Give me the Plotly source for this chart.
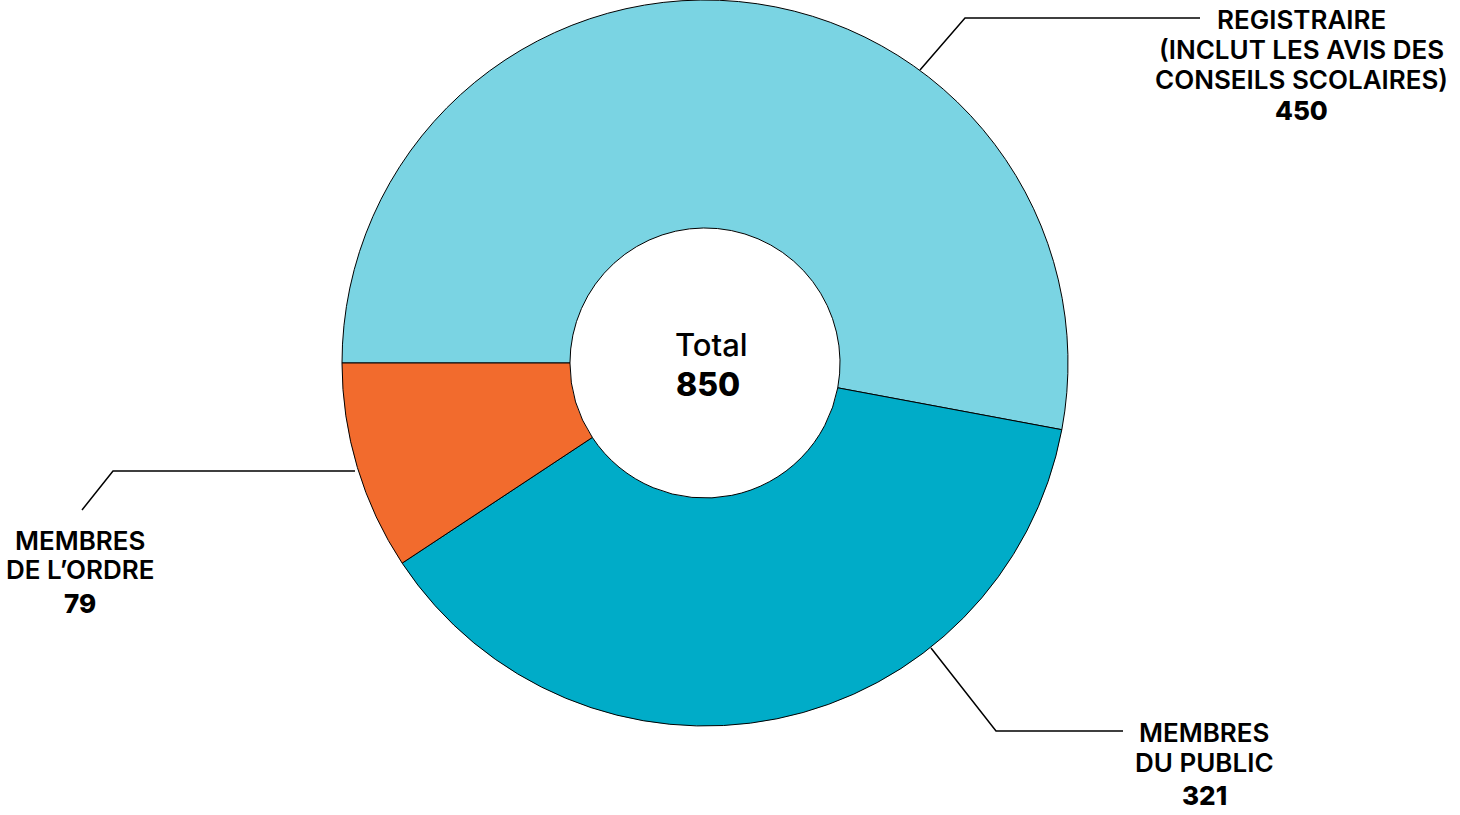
import plotly.graph_objects as go

W, H = 1460, 815

labels = ["Registraire (inclut les avis des conseils scolaires)", "Membres du public", "Membres de l'Ordre"]
values = [450, 321, 79]
colors = ["#7AD4E3", "#00ACC8", "#F26B2D"]
label_lines = [
    ["REGISTRAIRE", "(INCLUT LES AVIS DES", "CONSEILS SCOLAIRES)"],
    ["MEMBRES", "DU PUBLIC"],
    ["MEMBRES", "DE L’ORDRE"],
]
total = sum(values)

FONT = "Inter"


def px(x, y):
    return x / W, 1 - y / H


fig = go.Figure(
    go.Pie(
        labels=labels,
        values=values,
        marker=dict(colors=colors, line=dict(color="#000000", width=1)),
        hole=0.372,
        sort=False,
        direction="clockwise",
        rotation=270,
        textinfo="none",
        hoverinfo="label+value",
        domain=dict(x=[342 / W, 1068 / W], y=[89 / H, 1.0]),
        showlegend=False,
    )
)

# label blocks: (centre x, first line y, line step, number y)
blocks = [
    (1301, 20, 29.5, 111),
    (1204, 732, 30, 795),
    (80, 540, 29, 603),
]
annotations = []
for (cx, y0, step, ny), lines, val in zip(blocks, label_lines, values):
    for i, line in enumerate(lines):
        x, y = px(cx, y0 + i * step)
        annotations.append(dict(
            x=x, y=y, xref="paper", yref="paper", text=line, showarrow=False,
            xanchor="center", yanchor="middle",
            font=dict(family=FONT, size=26, color="#000000", weight=600),
        ))
    x, y = px(cx, ny)
    annotations.append(dict(
        x=x, y=y, xref="paper", yref="paper", text=f"{val}", showarrow=False,
        xanchor="center", yanchor="middle",
        font=dict(family=FONT, size=26, color="#000000", weight=800),
    ))

x, y = px(711, 344)
annotations.append(dict(
    x=x, y=y, xref="paper", yref="paper", text="Total", showarrow=False,
    xanchor="center", yanchor="middle",
    font=dict(family=FONT, size=31, color="#000000", weight=500),
))
x, y = px(708, 385)
annotations.append(dict(
    x=x, y=y, xref="paper", yref="paper", text=f"{total}", showarrow=False,
    xanchor="center", yanchor="middle",
    font=dict(family=FONT, size=32, color="#000000", weight=800),
))

leaders = [
    [(920, 70), (965, 18), (1200, 18)],
    [(931, 648), (996, 731), (1123, 731)],
    [(355, 471), (113, 471), (82, 510)],
]
shapes = []
for pts in leaders:
    path = ""
    for i, (lx, ly) in enumerate(pts):
        x, y = px(lx, ly)
        path += ("M" if i == 0 else " L") + f"{x:.5f},{y:.5f}"
    shapes.append(dict(type="path", xref="paper", yref="paper", path=path,
                       line=dict(color="#000000", width=1.5)))

fig.update_layout(
    width=W,
    height=H,
    margin=dict(l=0, r=0, t=0, b=0),
    paper_bgcolor="#ffffff",
    plot_bgcolor="#ffffff",
    annotations=annotations,
    shapes=shapes,
)

fig.write_html(
    "out.html",
    config={"displayModeBar": False},
    post_script="document.body.style.margin='0px';",
)
